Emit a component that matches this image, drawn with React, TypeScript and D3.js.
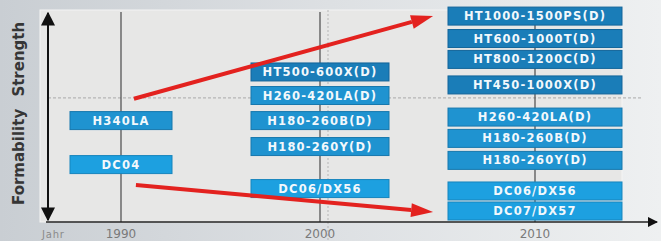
import { scaleLinear } from "d3";
import type { ReactElement } from "react";

// Years on the time axis
const years = [1990, 2000, 2010];

// Steel grades per year: strength index (0 = formable, 10 = strong)
type Grade = Readonly<{ year: number; name: string; level: number; kind: "ht" | "h" | "dc" }>;

const grades1990: ReadonlyArray<Grade> = [
  { year: 1990, name: "H340LA", level: 4.61, kind: "h" },
  { year: 1990, name: "DC04", level: 2.61, kind: "dc" },
];

const grades2000: ReadonlyArray<Grade> = [
  { year: 2000, name: "HT500-600X(D)", level: 6.82, kind: "ht" },
  { year: 2000, name: "H260-420LA(D)", level: 5.75, kind: "h" },
  { year: 2000, name: "H180-260B(D)", level: 4.61, kind: "h" },
  { year: 2000, name: "H180-260Y(D)", level: 3.43, kind: "h" },
  { year: 2000, name: "DC06/DX56", level: 1.52, kind: "dc" },
];

const grades2010: ReadonlyArray<Grade> = [
  { year: 2010, name: "HT1000-1500PS(D)", level: 9.36, kind: "ht" },
  { year: 2010, name: "HT600-1000T(D)", level: 8.34, kind: "ht" },
  { year: 2010, name: "HT800-1200C(D)", level: 7.39, kind: "ht" },
  { year: 2010, name: "HT450-1000X(D)", level: 6.23, kind: "ht" },
  { year: 2010, name: "H260-420LA(D)", level: 4.77, kind: "h" },
  { year: 2010, name: "H180-260B(D)", level: 3.8, kind: "h" },
  { year: 2010, name: "H180-260Y(D)", level: 2.8, kind: "h" },
  { year: 2010, name: "DC06/DX56", level: 1.41, kind: "dc" },
  { year: 2010, name: "DC07/DX57", level: 0.5, kind: "dc" },
];

// Trend arrows: [start, end] as [year, level]
const trendUp: ReadonlyArray<[number, number]> = [[1990.65, 5.6], [2005.26, 9.36]];
const trendDown: ReadonlyArray<[number, number]> = [[1990.75, 1.68], [2005.26, 0.45]];

const strengthSplit = 5.64;

const boxWidth: Record<number, number> = { 1990: 102, 2000: 138, 2010: 174 };
const boxHeight = 18;

const fills = {
  ht: { fill: "#1a7db8", stroke: "#13659a" },
  h: { fill: "#1f93d0", stroke: "#1778ad" },
  dc: { fill: "#1da0e0", stroke: "#1785bd" },
};

const Arrow = (props: { x1: number; y1: number; x2: number; y2: number }): ReactElement => {
  const { x1, y1, x2, y2 } = props;
  const ang = Math.atan2(y2 - y1, x2 - x1);
  const headLen = 22;
  const headW = 7;
  const bx = x2 - headLen * Math.cos(ang);
  const by = y2 - headLen * Math.sin(ang);
  const px = -Math.sin(ang) * headW;
  const py = Math.cos(ang) * headW;
  return (
    <g>
      <line x1={x1} y1={y1} x2={bx} y2={by} stroke="#e3221f" strokeWidth={4} />
      <polygon points={`${x2},${y2} ${bx + px},${by + py} ${bx - px},${by - py}`} fill="#e3221f" />
    </g>
  );
};

export default function App(): ReactElement {
  const width = 661;
  const height = 241;
  const panel = { left: 40, right: 622, top: 10, bottom: 222 };
  const axisX = 48;

  const x = scaleLinear().domain(years).range([121, 320, 535]);
  const y = scaleLinear().domain([0, 10]).range([222, 2]);

  const allGrades = [...grades1990, ...grades2000, ...grades2010];

  return (
    <svg width={width} height={height} style={{ position: "absolute", left: 0, top: 0 }}>
      <defs>
        <linearGradient id="bg" x1="0" x2="1" y1="0" y2="0">
          <stop offset="0" stopColor="#c9ced3" />
          <stop offset="0.5" stopColor="#dde0e3" />
          <stop offset="1" stopColor="#eef0f1" />
        </linearGradient>
        <marker id="ah" viewBox="0 0 10 10" refX="9" refY="5" markerWidth="7" markerHeight="7" orient="auto-start-reverse">
          <path d="M0,0 L10,5 L0,10 Z" fill="#111" />
        </marker>
      </defs>

      <rect x={0} y={0} width={width} height={height} fill="url(#bg)" />
      <rect
        x={panel.left}
        y={panel.top}
        width={panel.right - panel.left}
        height={panel.bottom - panel.top}
        fill="#e7e7e6"
        stroke="#f4f4f4"
      />

      {/* dashed guides */}
      <line x1={axisX} x2={642} y1={y(strengthSplit)} y2={y(strengthSplit)} stroke="#a9a9a9" strokeDasharray="3 2" />
      <line x1={x(2000) + 8} x2={x(2000) + 8} y1={panel.top} y2={height} stroke="#b5b5b5" strokeDasharray="2 2" />

      {/* year lines */}
      {years.map((yr) => (
        <line key={`v-${yr}`} x1={x(yr)} x2={x(yr)} y1={12} y2={panel.bottom} stroke="#4a4a4a" strokeWidth={1.2} />
      ))}

      {/* boxes */}
      {allGrades.map((g) => {
        const w = boxWidth[g.year];
        const cx = x(g.year);
        const cy = y(g.level);
        const c = fills[g.kind];
        return (
          <g key={`${g.year}-${g.name}`}>
            <rect x={cx - w / 2} y={cy - boxHeight / 2} width={w} height={boxHeight} fill={c.fill} stroke={c.stroke} />
            <text
              x={cx}
              y={cy}
              textAnchor="middle"
              dominantBaseline="central"
              fill="#f2f8fc"
              fontFamily="DejaVu Sans"
              fontWeight="bold"
              fontSize={11.5}
              letterSpacing={1.2}
            >
              {g.name}
            </text>
          </g>
        );
      })}

      {/* trend arrows */}
      <Arrow x1={x(trendUp[0][0])} y1={y(trendUp[0][1])} x2={x(trendUp[1][0])} y2={y(trendUp[1][1])} />
      <Arrow x1={x(trendDown[0][0])} y1={y(trendDown[0][1])} x2={x(trendDown[1][0])} y2={y(trendDown[1][1])} />

      {/* axes */}
      <line x1={axisX} x2={axisX} y1={13} y2={220} stroke="#111" strokeWidth={2} markerStart="url(#ah)" markerEnd="url(#ah)" />
      <line x1={46} x2={657} y1={panel.bottom} y2={panel.bottom} stroke="#222" strokeWidth={1.5} markerEnd="url(#ah)" />

      {/* axis titles */}
      <text
        transform={`translate(24, ${y(7.4)}) rotate(-90)`}
        textAnchor="middle"
        fill="#363636"
        fontFamily="DejaVu Sans"
        fontWeight="bold"
        fontSize={15}
      >
        Strength
      </text>
      <text
        transform={`translate(24, ${y(2.96)}) rotate(-90)`}
        textAnchor="middle"
        fill="#363636"
        fontFamily="DejaVu Sans"
        fontWeight="bold"
        fontSize={15}
      >
        Formability
      </text>

      {/* tick labels */}
      <text x={42} y={238} fill="#8a8a8a" fontFamily="DejaVu Sans" fontSize={10} letterSpacing={0.8}>
        Jahr
      </text>
      {years.map((yr) => (
        <text key={`t-${yr}`} x={x(yr)} y={238} textAnchor="middle" fill="#7a7a7a" fontFamily="DejaVu Sans" fontSize={12}>
          {yr}
        </text>
      ))}
    </svg>
  );
}
